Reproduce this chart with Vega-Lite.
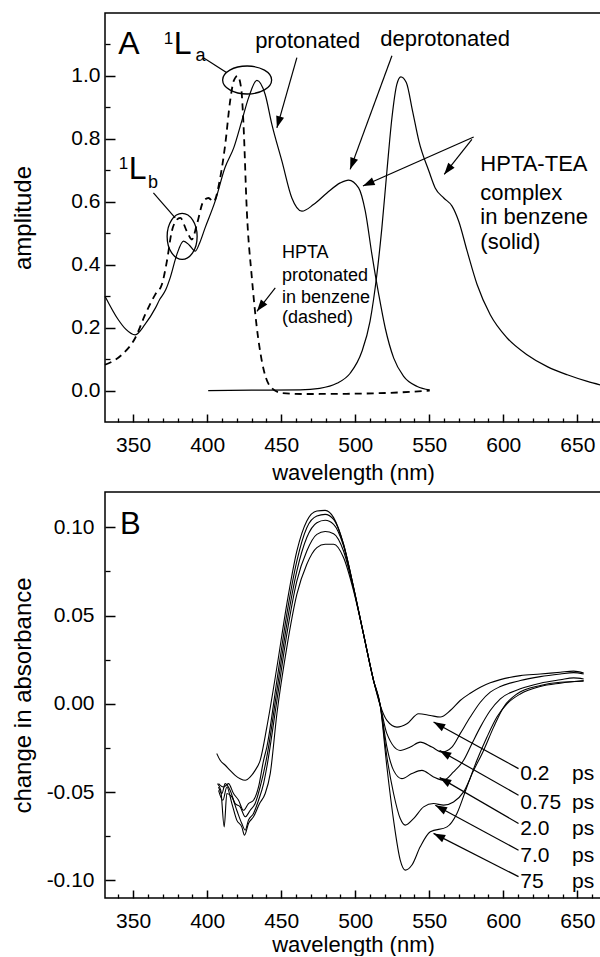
{
  "$schema": "https://vega.github.io/schema/vega-lite/v6.json",
  "padding": {"left": 10, "top": 12, "right": 0, "bottom": 0},
  "background": "white",
  "spacing": 7,
  "config": {
    "view": {"stroke": "black", "strokeWidth": 1.5},
    "text": {"font": "Liberation Sans"},
    "axis": {"domain": false, "grid": false, "zindex": 1, "labelFontSize": 21, "tickColor": "#000000", "labelFont": "Liberation Sans", "titleFont": "Liberation Sans", "titleFontWeight": "normal"}
  },
  "datasets": {
    "a": [
      {"c":"abs","x":331,"y":0.300},{"c":"abs","x":340,"y":0.225},{"c":"abs","x":345,"y":0.195},{"c":"abs","x":351.4,"y":0.177},{"c":"abs","x":358,"y":0.210},{"c":"abs","x":365,"y":0.262},{"c":"abs","x":368,"y":0.290},{"c":"abs","x":372,"y":0.320},{"c":"abs","x":375,"y":0.358},{"c":"abs","x":379.5,"y":0.432},{"c":"abs","x":384,"y":0.475},{"c":"abs","x":388,"y":0.462},{"c":"abs","x":392,"y":0.443},{"c":"abs","x":395,"y":0.470},{"c":"abs","x":398.6,"y":0.517},{"c":"abs","x":405.4,"y":0.602},{"c":"abs","x":412,"y":0.708},{"c":"abs","x":418,"y":0.772},{"c":"abs","x":423.4,"y":0.857},{"c":"abs","x":428,"y":0.931},{"c":"abs","x":433.6,"y":0.986},{"c":"abs","x":439.2,"y":0.941},{"c":"abs","x":443.7,"y":0.846},{"c":"abs","x":450.5,"y":0.729},{"c":"abs","x":457.2,"y":0.612},{"c":"abs","x":464,"y":0.570},{"c":"abs","x":471.8,"y":0.591},{"c":"abs","x":480.9,"y":0.628},{"c":"abs","x":489.9,"y":0.660},{"c":"abs","x":495.5,"y":0.669},{"c":"abs","x":502.3,"y":0.644},{"c":"abs","x":506.8,"y":0.570},{"c":"abs","x":511.3,"y":0.432},{"c":"abs","x":515.9,"y":0.305},{"c":"abs","x":520.3,"y":0.198},{"c":"abs","x":526,"y":0.103},{"c":"abs","x":532.7,"y":0.045},{"c":"abs","x":541.9,"y":0.013},{"c":"abs","x":550.3,"y":0.002},
      {"c":"em","x":400.7,"y":0.000},{"c":"em","x":430,"y":0.001},{"c":"em","x":462.8,"y":0.002},{"c":"em","x":476,"y":0.007},{"c":"em","x":487.6,"y":0.023},{"c":"em","x":496.6,"y":0.055},{"c":"em","x":504.5,"y":0.124},{"c":"em","x":510,"y":0.220},{"c":"em","x":514.6,"y":0.368},{"c":"em","x":518,"y":0.517},{"c":"em","x":521.4,"y":0.697},{"c":"em","x":524.8,"y":0.867},{"c":"em","x":528.1,"y":0.973},{"c":"em","x":530.8,"y":0.997},{"c":"em","x":534.5,"y":0.979},{"c":"em","x":538.7,"y":0.889},{"c":"em","x":543,"y":0.793},{"c":"em","x":549.8,"y":0.697},{"c":"em","x":554,"y":0.644},{"c":"em","x":559.8,"y":0.612},{"c":"em","x":565.4,"y":0.586},{"c":"em","x":569.9,"y":0.538},{"c":"em","x":575.6,"y":0.443},{"c":"em","x":582.3,"y":0.337},{"c":"em","x":591.2,"y":0.241},{"c":"em","x":602.6,"y":0.167},{"c":"em","x":616,"y":0.114},{"c":"em","x":629.7,"y":0.076},{"c":"em","x":643.2,"y":0.050},{"c":"em","x":656.8,"y":0.029},{"c":"em","x":665.5,"y":0.018},
      {"c":"dash","x":331,"y":0.082},{"c":"dash","x":342.4,"y":0.114},{"c":"dash","x":351.4,"y":0.167},{"c":"dash","x":358.1,"y":0.241},{"c":"dash","x":364.9,"y":0.305},{"c":"dash","x":369.4,"y":0.337},{"c":"dash","x":372.8,"y":0.411},{"c":"dash","x":376.1,"y":0.506},{"c":"dash","x":379,"y":0.540},{"c":"dash","x":381.8,"y":0.549},{"c":"dash","x":386.3,"y":0.506},{"c":"dash","x":389.7,"y":0.480},{"c":"dash","x":393,"y":0.527},{"c":"dash","x":397.5,"y":0.602},{"c":"dash","x":400.9,"y":0.612},{"c":"dash","x":404.3,"y":0.600},{"c":"dash","x":408.8,"y":0.676},{"c":"dash","x":412.2,"y":0.782},{"c":"dash","x":415.5,"y":0.920},{"c":"dash","x":418,"y":0.985},{"c":"dash","x":420.5,"y":1.000},{"c":"dash","x":423,"y":0.960},{"c":"dash","x":424.5,"y":0.850},{"c":"dash","x":426.8,"y":0.570},{"c":"dash","x":430.2,"y":0.358},{"c":"dash","x":433.6,"y":0.198},{"c":"dash","x":437,"y":0.092},{"c":"dash","x":442.6,"y":0.013},{"c":"dash","x":450.5,"y":-0.008},{"c":"dash","x":466.2,"y":-0.011},{"c":"dash","x":500,"y":-0.010},{"c":"dash","x":530,"y":-0.006},{"c":"dash","x":550.3,"y":0.000}
    ],
    "ta": [
      {"k":"big","t":"A","x":339.9,"y":1.07},{"k":"big","t":"L","x":377.4,"y":1.07},{"k":"big","t":"L","x":347,"y":0.672},
      {"k":"sup","t":"1","x":377,"y":1.102},{"k":"sup","t":"1","x":346.6,"y":0.704},
      {"k":"sub","t":"a","x":392.2,"y":1.048},{"k":"sub","t":"b","x":360.1,"y":0.643},
      {"k":"mid","t":"protonated","x":432.4,"y":1.09},{"k":"mid","t":"deprotonated","x":516.9,"y":1.096},{"k":"mid","t":"HPTA-TEA","x":584.5,"y":0.697},{"k":"mid","t":"complex","x":584.5,"y":0.607},{"k":"mid","t":"in benzene","x":584.5,"y":0.528},{"k":"mid","t":"(solid)","x":584.5,"y":0.449},
      {"k":"small","t":"HPTA","x":450.5,"y":0.42},{"k":"small","t":"protonated","x":450.5,"y":0.347},{"k":"small","t":"in benzene","x":450.5,"y":0.278},{"k":"small","t":"(dashed)","x":450.5,"y":0.214}
    ],
    "ra": [
      {"x":413.3,"y":1.010,"tx":397.5,"ty":1.058,"h":0,"a":0},
      {"x":378.4,"y":0.549,"tx":363.7,"ty":0.628,"h":0,"a":0},
      {"x":447.1,"y":0.835,"tx":460.6,"ty":1.058,"h":1,"a":196},
      {"x":496.6,"y":0.703,"tx":524.8,"ty":1.064,"h":1,"a":200},
      {"x":505.2,"y":0.650,"tx":580,"ty":0.806,"h":1,"a":246},
      {"x":560.1,"y":0.687,"tx":578.8,"ty":0.798,"h":1,"a":218},
      {"x":433.6,"y":0.252,"tx":446,"ty":0.326,"h":1,"a":218}
    ],
    "ea": [{"e":"La","x":427,"y":0.987},{"e":"Lb","x":383.1,"y":0.49}],
    "b": [
      {"s":"0.2","x":406.5,"y":-0.0282},{"s":"0.2","x":408.8,"y":-0.0320},{"s":"0.2","x":412.2,"y":-0.0348},{"s":"0.2","x":415.5,"y":-0.0377},{"s":"0.2","x":418.9,"y":-0.0405},{"s":"0.2","x":422.3,"y":-0.0424},{"s":"0.2","x":425.7,"y":-0.0433},{"s":"0.2","x":429.1,"y":-0.0414},{"s":"0.2","x":432.4,"y":-0.0377},{"s":"0.2","x":435.8,"y":-0.0320},{"s":"0.2","x":440.3,"y":-0.0132},{"s":"0.2","x":447.1,"y":0.0207},{"s":"0.2","x":453.8,"y":0.0565},{"s":"0.2","x":460.6,"y":0.0866},{"s":"0.2","x":467.3,"y":0.1036},{"s":"0.2","x":474.1,"y":0.1092},{"s":"0.2","x":479.7,"y":0.1096},{"s":"0.2","x":485.4,"y":0.1055},{"s":"0.2","x":492.1,"y":0.0904},{"s":"0.2","x":498.9,"y":0.0659},{"s":"0.2","x":505.6,"y":0.0395},{"s":"0.2","x":512.4,"y":0.0132},{"s":"0.2","x":516.9,"y":-0.0009},{"s":"0.2","x":521.4,"y":-0.0094},{"s":"0.2","x":528.2,"y":-0.0132},{"s":"0.2","x":534.9,"y":-0.0113},{"s":"0.2","x":542.8,"y":-0.0056},{"s":"0.2","x":550.7,"y":-0.0066},{"s":"0.2","x":557.4,"y":-0.0075},{"s":"0.2","x":564.2,"y":-0.0038},{"s":"0.2","x":570.9,"y":0.0019},{"s":"0.2","x":577.7,"y":0.0060},{"s":"0.2","x":584.5,"y":0.0094},{"s":"0.2","x":591.2,"y":0.0119},{"s":"0.2","x":598,"y":0.0137},{"s":"0.2","x":611.5,"y":0.0160},{"s":"0.2","x":625,"y":0.0169},{"s":"0.2","x":638.5,"y":0.0179},{"s":"0.2","x":647.5,"y":0.0185},{"s":"0.2","x":654.3,"y":0.0175},
      {"s":"0.75","x":407.7,"y":-0.0452},{"s":"0.75","x":411,"y":-0.0471},{"s":"0.75","x":414.4,"y":-0.0452},{"s":"0.75","x":417.8,"y":-0.0508},{"s":"0.75","x":421.2,"y":-0.0546},{"s":"0.75","x":424.5,"y":-0.0603},{"s":"0.75","x":427.9,"y":-0.0565},{"s":"0.75","x":431.3,"y":-0.0546},{"s":"0.75","x":434.7,"y":-0.0471},{"s":"0.75","x":438.1,"y":-0.0320},{"s":"0.75","x":440.3,"y":-0.0245},{"s":"0.75","x":447.1,"y":0.0132},{"s":"0.75","x":453.8,"y":0.0508},{"s":"0.75","x":460.6,"y":0.0810},{"s":"0.75","x":467.3,"y":0.0998},{"s":"0.75","x":474.1,"y":0.1064},{"s":"0.75","x":479.7,"y":0.1073},{"s":"0.75","x":485.4,"y":0.1045},{"s":"0.75","x":492.1,"y":0.0904},{"s":"0.75","x":498.9,"y":0.0659},{"s":"0.75","x":505.6,"y":0.0395},{"s":"0.75","x":512.4,"y":0.0132},{"s":"0.75","x":516.9,"y":-0.0009},{"s":"0.75","x":521.4,"y":-0.0169},{"s":"0.75","x":530.4,"y":-0.0264},{"s":"0.75","x":537.2,"y":-0.0245},{"s":"0.75","x":543.9,"y":-0.0217},{"s":"0.75","x":551.8,"y":-0.0245},{"s":"0.75","x":558.6,"y":-0.0273},{"s":"0.75","x":565.3,"y":-0.0245},{"s":"0.75","x":570.9,"y":-0.0169},{"s":"0.75","x":577.7,"y":-0.0075},{"s":"0.75","x":584.5,"y":0.0009},{"s":"0.75","x":591.2,"y":0.0066},{"s":"0.75","x":598,"y":0.0098},{"s":"0.75","x":611.5,"y":0.0132},{"s":"0.75","x":625,"y":0.0154},{"s":"0.75","x":638.5,"y":0.0169},{"s":"0.75","x":647.5,"y":0.0177},{"s":"0.75","x":654.3,"y":0.0169},
      {"s":"2.0","x":407.7,"y":-0.0471},{"s":"2.0","x":409.9,"y":-0.0508},{"s":"2.0","x":412.2,"y":-0.0452},{"s":"2.0","x":415.5,"y":-0.0490},{"s":"2.0","x":418.9,"y":-0.0565},{"s":"2.0","x":422.3,"y":-0.0584},{"s":"2.0","x":425.7,"y":-0.0640},{"s":"2.0","x":429.1,"y":-0.0603},{"s":"2.0","x":432.4,"y":-0.0565},{"s":"2.0","x":435.8,"y":-0.0471},{"s":"2.0","x":440.3,"y":-0.0301},{"s":"2.0","x":447.1,"y":0.0075},{"s":"2.0","x":453.8,"y":0.0452},{"s":"2.0","x":460.6,"y":0.0753},{"s":"2.0","x":467.3,"y":0.0942},{"s":"2.0","x":474.1,"y":0.1026},{"s":"2.0","x":479.7,"y":0.1040},{"s":"2.0","x":485.4,"y":0.1017},{"s":"2.0","x":492.1,"y":0.0895},{"s":"2.0","x":498.9,"y":0.0659},{"s":"2.0","x":505.6,"y":0.0395},{"s":"2.0","x":512.4,"y":0.0132},{"s":"2.0","x":516.9,"y":-0.0009},{"s":"2.0","x":521.4,"y":-0.0245},{"s":"2.0","x":525.9,"y":-0.0377},{"s":"2.0","x":531.5,"y":-0.0424},{"s":"2.0","x":538.3,"y":-0.0395},{"s":"2.0","x":545,"y":-0.0377},{"s":"2.0","x":552.9,"y":-0.0414},{"s":"2.0","x":559.7,"y":-0.0433},{"s":"2.0","x":566.4,"y":-0.0386},{"s":"2.0","x":573.2,"y":-0.0320},{"s":"2.0","x":578.8,"y":-0.0226},{"s":"2.0","x":584.5,"y":-0.0132},{"s":"2.0","x":591.2,"y":-0.0038},{"s":"2.0","x":598,"y":0.0028},{"s":"2.0","x":611.5,"y":0.0085},{"s":"2.0","x":625,"y":0.0117},{"s":"2.0","x":638.5,"y":0.0136},{"s":"2.0","x":647.5,"y":0.0147},{"s":"2.0","x":654.3,"y":0.0141},
      {"s":"7.0","x":407,"y":-0.0452},{"s":"7.0","x":409.2,"y":-0.0490},{"s":"7.0","x":411.5,"y":-0.0697},{"s":"7.0","x":413.3,"y":-0.0508},{"s":"7.0","x":416.7,"y":-0.0527},{"s":"7.0","x":420,"y":-0.0603},{"s":"7.0","x":423.4,"y":-0.0678},{"s":"7.0","x":425.7,"y":-0.0716},{"s":"7.0","x":427.9,"y":-0.0659},{"s":"7.0","x":431.3,"y":-0.0621},{"s":"7.0","x":434.7,"y":-0.0546},{"s":"7.0","x":438.1,"y":-0.0452},{"s":"7.0","x":440.3,"y":-0.0358},{"s":"7.0","x":447.1,"y":0.0019},{"s":"7.0","x":453.8,"y":0.0395},{"s":"7.0","x":460.6,"y":0.0697},{"s":"7.0","x":467.3,"y":0.0866},{"s":"7.0","x":474.1,"y":0.0960},{"s":"7.0","x":479.7,"y":0.0976},{"s":"7.0","x":485.4,"y":0.0964},{"s":"7.0","x":492.1,"y":0.0866},{"s":"7.0","x":498.9,"y":0.0650},{"s":"7.0","x":505.6,"y":0.0395},{"s":"7.0","x":512.4,"y":0.0132},{"s":"7.0","x":516.9,"y":-0.0009},{"s":"7.0","x":521.4,"y":-0.0301},{"s":"7.0","x":525.9,"y":-0.0508},{"s":"7.0","x":530.4,"y":-0.0650},{"s":"7.0","x":533.8,"y":-0.0687},{"s":"7.0","x":539.4,"y":-0.0650},{"s":"7.0","x":546.2,"y":-0.0584},{"s":"7.0","x":552.9,"y":-0.0565},{"s":"7.0","x":559.7,"y":-0.0574},{"s":"7.0","x":566.4,"y":-0.0556},{"s":"7.0","x":573.2,"y":-0.0499},{"s":"7.0","x":580,"y":-0.0377},{"s":"7.0","x":586.7,"y":-0.0264},{"s":"7.0","x":593.5,"y":-0.0132},{"s":"7.0","x":600.2,"y":-0.0019},{"s":"7.0","x":609.2,"y":0.0056},{"s":"7.0","x":625,"y":0.0104},{"s":"7.0","x":638.5,"y":0.0122},{"s":"7.0","x":654.3,"y":0.0128},
      {"s":"75","x":407.7,"y":-0.0490},{"s":"75","x":410.6,"y":-0.0546},{"s":"75","x":413.3,"y":-0.0471},{"s":"75","x":416.7,"y":-0.0565},{"s":"75","x":420,"y":-0.0659},{"s":"75","x":423.4,"y":-0.0697},{"s":"75","x":425.2,"y":-0.0744},{"s":"75","x":427.9,"y":-0.0678},{"s":"75","x":431.3,"y":-0.0640},{"s":"75","x":435.4,"y":-0.0565},{"s":"75","x":439.2,"y":-0.0508},{"s":"75","x":442.6,"y":-0.0395},{"s":"75","x":447.1,"y":-0.0056},{"s":"75","x":453.8,"y":0.0320},{"s":"75","x":460.6,"y":0.0621},{"s":"75","x":467.3,"y":0.0791},{"s":"75","x":474.1,"y":0.0885},{"s":"75","x":479.7,"y":0.0904},{"s":"75","x":485.4,"y":0.0904},{"s":"75","x":492.1,"y":0.0829},{"s":"75","x":498.9,"y":0.0640},{"s":"75","x":505.6,"y":0.0395},{"s":"75","x":512.4,"y":0.0132},{"s":"75","x":516.9,"y":-0.0009},{"s":"75","x":521.4,"y":-0.0358},{"s":"75","x":525.9,"y":-0.0659},{"s":"75","x":530.4,"y":-0.0885},{"s":"75","x":533.8,"y":-0.0942},{"s":"75","x":538.3,"y":-0.0913},{"s":"75","x":543.9,"y":-0.0810},{"s":"75","x":550.7,"y":-0.0725},{"s":"75","x":562,"y":-0.0697},{"s":"75","x":568.7,"y":-0.0621},{"s":"75","x":575.4,"y":-0.0471},{"s":"75","x":582.2,"y":-0.0320},{"s":"75","x":589,"y":-0.0188},{"s":"75","x":595.7,"y":-0.0075},{"s":"75","x":602.5,"y":0.0000},{"s":"75","x":611.5,"y":0.0056},{"s":"75","x":625,"y":0.0098},{"s":"75","x":638.5,"y":0.0117},{"s":"75","x":654.3,"y":0.0132}
    ],
    "lb": [
      {"k":"B","t":"B","x":341.2,"y":0.096},
      {"k":"n","t":"0.2","x":611.5,"y":-0.0433},{"k":"n","t":"0.75","x":611.5,"y":-0.0593},{"k":"n","t":"2.0","x":611.5,"y":-0.0744},{"k":"n","t":"7.0","x":611.5,"y":-0.0894},{"k":"n","t":"75","x":611.5,"y":-0.1045},
      {"k":"ps","t":"ps","x":646.4,"y":-0.0433},{"k":"ps","t":"ps","x":646.4,"y":-0.0593},{"k":"ps","t":"ps","x":646.4,"y":-0.0744},{"k":"ps","t":"ps","x":646.4,"y":-0.0894},{"k":"ps","t":"ps","x":646.4,"y":-0.1045}
    ],
    "rb": [
      {"x":552.9,"y":-0.0103,"tx":610.3,"ty":-0.0367,"a":299},
      {"x":557,"y":-0.0264,"tx":610.3,"ty":-0.0518,"a":300},
      {"x":557,"y":-0.0418,"tx":610.3,"ty":-0.0678,"a":300},
      {"x":554.1,"y":-0.0575,"tx":610.3,"ty":-0.0829,"a":298},
      {"x":552.9,"y":-0.0734,"tx":610.3,"ty":-0.0979,"a":297}
    ]
  },
  "vconcat": [
    {
      "width": 496,
      "height": 409,
      "layer": [
        {
          "data": {"name": "a"},
          "transform": [{"filter": "datum.c != 'dash'"}],
          "mark": {"type": "line", "color": "black", "strokeWidth": 1.2, "interpolate": "monotone"},
          "encoding": {
            "x": {"field": "x", "type": "quantitative", "scale": {"domain": [331, 666], "nice": false, "zero": false},
              "axis": {"orient": "bottom", "values": [350, 400, 450, 500, 550, 600, 650], "format": "d", "offset": -8, "tickSize": 8, "tickWidth": 1.5, "zindex": 1, "labelPadding": 12, "title": "wavelength (nm)", "titleFontSize": 22, "titlePadding": 7}},
            "y": {"field": "y", "type": "quantitative", "scale": {"domain": [-0.1, 1.2], "nice": false, "zero": false},
              "axis": {"orient": "left", "values": [0, 0.2, 0.4, 0.6, 0.8, 1.0], "format": ".1f", "offset": -10, "tickSize": 10, "tickWidth": 1.5, "zindex": 1, "labelPadding": 5, "title": "amplitude", "titleFontSize": 24, "minExtent": 40, "maxExtent": 40, "titlePadding": 40}},
            "detail": {"field": "c"}
          }
        },
        {
          "data": {"name": "a"},
          "transform": [{"filter": "datum.c == 'dash'"}],
          "mark": {"type": "line", "color": "black", "strokeWidth": 1.8, "strokeDash": [7, 5], "interpolate": "monotone"},
          "encoding": {
            "x": {"field": "x", "type": "quantitative", "scale": {"domain": [331, 666], "nice": false, "zero": false},
              "axis": {"orient": "bottom", "values": [340, 360, 370, 380, 390, 410, 420, 430, 440, 460, 470, 480, 490, 510, 520, 530, 540, 560, 570, 580, 590, 610, 620, 630, 640, 660], "labels": false, "offset": -4, "tickSize": 4, "tickWidth": 1.3, "zindex": 1, "title": null}},
            "y": {"field": "y", "type": "quantitative", "scale": {"domain": [-0.1, 1.2], "nice": false, "zero": false},
              "axis": {"orient": "left", "values": [0.1, 0.3, 0.5, 0.7, 0.9, 1.1], "labels": false, "offset": -5, "tickSize": 5, "tickWidth": 1.3, "zindex": 1, "title": null}}
          }
        },
        {
          "data": {"name": "ea"},
          "transform": [{"filter": "datum.e == 'La'"}],
          "mark": {"type": "point", "shape": "M-1,0A1,0.571,0,1,1,1,0A1,0.571,0,1,1,-1,0Z", "filled": false, "size": 2401, "stroke": "black", "strokeWidth": 1.3, "opacity": 1},
          "encoding": {
            "x": {"field": "x", "type": "quantitative", "scale": {"domain": [331, 666], "nice": false, "zero": false}, "axis": null},
            "y": {"field": "y", "type": "quantitative", "scale": {"domain": [-0.1, 1.2], "nice": false, "zero": false}, "axis": null}
          }
        },
        {
          "data": {"name": "ea"},
          "transform": [{"filter": "datum.e == 'Lb'"}],
          "mark": {"type": "point", "shape": "M0,-1A0.652,1,0,1,1,0,1A0.652,1,0,1,1,0,-1Z", "filled": false, "size": 2116, "stroke": "black", "strokeWidth": 1.3, "opacity": 1},
          "encoding": {
            "x": {"field": "x", "type": "quantitative", "scale": {"domain": [331, 666], "nice": false, "zero": false}, "axis": null},
            "y": {"field": "y", "type": "quantitative", "scale": {"domain": [-0.1, 1.2], "nice": false, "zero": false}, "axis": null}
          }
        },
        {
          "data": {"name": "ra"},
          "mark": {"type": "rule", "color": "black", "strokeWidth": 1.2},
          "encoding": {
            "x": {"field": "x", "type": "quantitative", "scale": {"domain": [331, 666], "nice": false, "zero": false}, "axis": null},
            "y": {"field": "y", "type": "quantitative", "scale": {"domain": [-0.1, 1.2], "nice": false, "zero": false}, "axis": null},
            "x2": {"field": "tx"},
            "y2": {"field": "ty"}
          }
        },
        {
          "data": {"name": "ra"},
          "transform": [{"filter": "datum.h == 1"}],
          "mark": {"type": "point", "shape": "M0,0L-0.45,1.3L0.45,1.3Z", "filled": true, "size": 324, "color": "black", "opacity": 1},
          "encoding": {
            "x": {"field": "x", "type": "quantitative", "scale": {"domain": [331, 666], "nice": false, "zero": false}, "axis": null},
            "y": {"field": "y", "type": "quantitative", "scale": {"domain": [-0.1, 1.2], "nice": false, "zero": false}, "axis": null},
            "angle": {"field": "a", "type": "quantitative", "scale": null}
          }
        },
        {
          "data": {"name": "ta"},
          "transform": [{"filter": "datum.k == 'big'"}],
          "mark": {"type": "text", "align": "left", "baseline": "alphabetic", "fontSize": 32, "color": "black"},
          "encoding": {
            "x": {"field": "x", "type": "quantitative", "scale": {"domain": [331, 666], "nice": false, "zero": false}, "axis": null},
            "y": {"field": "y", "type": "quantitative", "scale": {"domain": [-0.1, 1.2], "nice": false, "zero": false}, "axis": null},
            "text": {"field": "t"}
          }
        },
        {
          "data": {"name": "ta"},
          "transform": [{"filter": "datum.k == 'sup'"}],
          "mark": {"type": "text", "align": "right", "baseline": "alphabetic", "fontSize": 17, "color": "black"},
          "encoding": {
            "x": {"field": "x", "type": "quantitative", "scale": {"domain": [331, 666], "nice": false, "zero": false}, "axis": null},
            "y": {"field": "y", "type": "quantitative", "scale": {"domain": [-0.1, 1.2], "nice": false, "zero": false}, "axis": null},
            "text": {"field": "t"}
          }
        },
        {
          "data": {"name": "ta"},
          "transform": [{"filter": "datum.k == 'sub'"}],
          "mark": {"type": "text", "align": "left", "baseline": "alphabetic", "fontSize": 18, "color": "black"},
          "encoding": {
            "x": {"field": "x", "type": "quantitative", "scale": {"domain": [331, 666], "nice": false, "zero": false}, "axis": null},
            "y": {"field": "y", "type": "quantitative", "scale": {"domain": [-0.1, 1.2], "nice": false, "zero": false}, "axis": null},
            "text": {"field": "t"}
          }
        },
        {
          "data": {"name": "ta"},
          "transform": [{"filter": "datum.k == 'mid'"}],
          "mark": {"type": "text", "align": "left", "baseline": "alphabetic", "fontSize": 22, "color": "black"},
          "encoding": {
            "x": {"field": "x", "type": "quantitative", "scale": {"domain": [331, 666], "nice": false, "zero": false}, "axis": null},
            "y": {"field": "y", "type": "quantitative", "scale": {"domain": [-0.1, 1.2], "nice": false, "zero": false}, "axis": null},
            "text": {"field": "t"}
          }
        },
        {
          "data": {"name": "ta"},
          "transform": [{"filter": "datum.k == 'small'"}],
          "mark": {"type": "text", "align": "left", "baseline": "alphabetic", "fontSize": 18, "color": "black"},
          "encoding": {
            "x": {"field": "x", "type": "quantitative", "scale": {"domain": [331, 666], "nice": false, "zero": false}, "axis": null},
            "y": {"field": "y", "type": "quantitative", "scale": {"domain": [-0.1, 1.2], "nice": false, "zero": false}, "axis": null},
            "text": {"field": "t"}
          }
        }
      ],
      "resolve": {"axis": {"x": "independent", "y": "independent"}}
    },
    {
      "width": 496,
      "height": 406,
      "layer": [
        {
          "data": {"name": "b"},
          "mark": {"type": "line", "color": "black", "strokeWidth": 1.1, "interpolate": "monotone"},
          "encoding": {
            "x": {"field": "x", "type": "quantitative", "scale": {"domain": [331, 666], "nice": false, "zero": false},
              "axis": {"orient": "bottom", "values": [350, 400, 450, 500, 550, 600, 650], "format": "d", "offset": -8, "tickSize": 8, "tickWidth": 1.5, "zindex": 1, "labelPadding": 12, "title": "wavelength (nm)", "titleFontSize": 22, "titlePadding": 3}},
            "y": {"field": "y", "type": "quantitative", "scale": {"domain": [-0.11, 0.12], "nice": false, "zero": false},
              "axis": {"orient": "left", "values": [-0.1, -0.05, 0, 0.05, 0.1], "labelExpr": "datum.value < 0 ? '-' + format(-datum.value, '.2f') : format(datum.value, '.2f')", "offset": -10, "tickSize": 10, "tickWidth": 1.5, "zindex": 1, "labelPadding": 11, "title": "change in absorbance", "titleFontSize": 24, "minExtent": 40, "maxExtent": 40, "titlePadding": 40}},
            "detail": {"field": "s"}
          }
        },
        {
          "data": {"name": "rb"},
          "mark": {"type": "rule", "color": "black", "strokeWidth": 1.2},
          "encoding": {
            "x": {"field": "x", "type": "quantitative", "scale": {"domain": [331, 666], "nice": false, "zero": false},
              "axis": {"orient": "bottom", "values": [340, 360, 370, 380, 390, 410, 420, 430, 440, 460, 470, 480, 490, 510, 520, 530, 540, 560, 570, 580, 590, 610, 620, 630, 640, 660], "labels": false, "offset": -4, "tickSize": 4, "tickWidth": 1.3, "zindex": 1, "title": null}},
            "y": {"field": "y", "type": "quantitative", "scale": {"domain": [-0.11, 0.12], "nice": false, "zero": false},
              "axis": {"orient": "left", "values": [-0.075, -0.025, 0.025, 0.075], "labels": false, "offset": -5, "tickSize": 5, "tickWidth": 1.3, "zindex": 1, "title": null}},
            "x2": {"field": "tx"},
            "y2": {"field": "ty"}
          }
        },
        {
          "data": {"name": "rb"},
          "mark": {"type": "point", "shape": "M0,0L-0.45,1.3L0.45,1.3Z", "filled": true, "size": 324, "color": "black", "opacity": 1},
          "encoding": {
            "x": {"field": "x", "type": "quantitative", "scale": {"domain": [331, 666], "nice": false, "zero": false}, "axis": null},
            "y": {"field": "y", "type": "quantitative", "scale": {"domain": [-0.11, 0.12], "nice": false, "zero": false}, "axis": null},
            "angle": {"field": "a", "type": "quantitative", "scale": null}
          }
        },
        {
          "data": {"name": "lb"},
          "transform": [{"filter": "datum.k == 'B'"}],
          "mark": {"type": "text", "align": "left", "baseline": "alphabetic", "fontSize": 31, "color": "black"},
          "encoding": {
            "x": {"field": "x", "type": "quantitative", "scale": {"domain": [331, 666], "nice": false, "zero": false}, "axis": null},
            "y": {"field": "y", "type": "quantitative", "scale": {"domain": [-0.11, 0.12], "nice": false, "zero": false}, "axis": null},
            "text": {"field": "t"}
          }
        },
        {
          "data": {"name": "lb"},
          "transform": [{"filter": "datum.k != 'B'"}],
          "mark": {"type": "text", "align": "left", "baseline": "alphabetic", "fontSize": 21, "color": "black"},
          "encoding": {
            "x": {"field": "x", "type": "quantitative", "scale": {"domain": [331, 666], "nice": false, "zero": false}, "axis": null},
            "y": {"field": "y", "type": "quantitative", "scale": {"domain": [-0.11, 0.12], "nice": false, "zero": false}, "axis": null},
            "text": {"field": "t"}
          }
        }
      ],
      "resolve": {"axis": {"x": "independent", "y": "independent"}}
    }
  ]
}
